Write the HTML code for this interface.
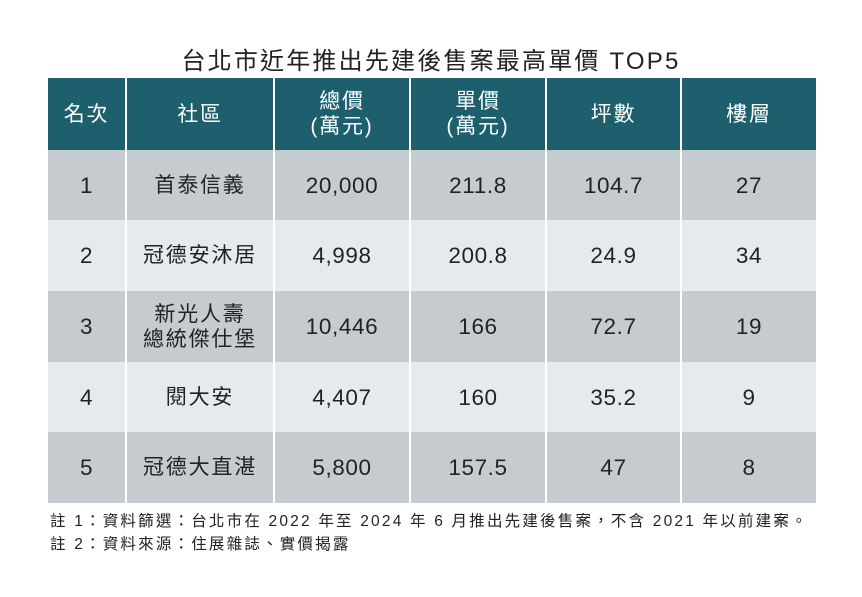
<!DOCTYPE html>
<html><head><meta charset="utf-8"><style>
body{margin:0;width:862px;height:597px;background:#fff;position:relative;font-family:"Liberation Sans","Noto Sans CJK TC",sans-serif;overflow:hidden}
.t{position:absolute;left:0;width:862px;top:41px;text-align:center;font-size:24px;letter-spacing:2.2px;color:#222}
.c{position:absolute;display:flex;align-items:center;justify-content:center;text-align:center;font-size:21px;letter-spacing:1.8px;color:#222;line-height:25px;box-sizing:border-box}
.num{font-size:22.5px;letter-spacing:0.6px}
.h{background:#1d5f6d;color:#fff}
.g{background:#c6cbd0}
.l{background:#e7eaed}
.n{position:absolute;left:50px;font-size:15.5px;letter-spacing:2.2px;color:#222;white-space:nowrap}
</style></head><body>
<div class="t">台北市近年推出先建後售案最高單價 TOP5</div>
<div id="tb"></div>
<div class="n" style="top:509px">註 1：資料篩選：台北市在 2022 年至 2024 年 6 月推出先建後售案，不含 2021 年以前建案。</div>
<div class="n" style="top:532px">註 2：資料來源：住展雜誌、實價揭露</div>
<script>
var xs=[48,126,274,410,546,681,816];
var ys=[78,150,220,291,362,432,503];
var rows=[["名次","社區","總價<br>(萬元)","單價<br>(萬元)","坪數","樓層"],
["1","首泰信義","20,000","211.8","104.7","27"],
["2","冠德安沐居","4,998","200.8","24.9","34"],
["3","新光人壽<br>總統傑仕堡","10,446","166","72.7","19"],
["4","閱大安","4,407","160","35.2","9"],
["5","冠德大直湛","5,800","157.5","47","8"]];
var h="";
for(var r=0;r<6;r++)for(var c=0;c<6;c++){
var cls=r==0?"h":(r%2?"g":"l");
if(r>0&&c!=1)cls+=" num";
var x=xs[c]+(c?1:0),w=xs[c+1]-xs[c]-(c?1:0)-(c<5?1:0);
h+='<div class="c '+cls+'" style="left:'+x+'px;top:'+ys[r]+'px;width:'+w+'px;height:'+(ys[r+1]-ys[r])+'px">'+rows[r][c]+'</div>';}
document.getElementById("tb").innerHTML=h;
</script>
</body></html>
